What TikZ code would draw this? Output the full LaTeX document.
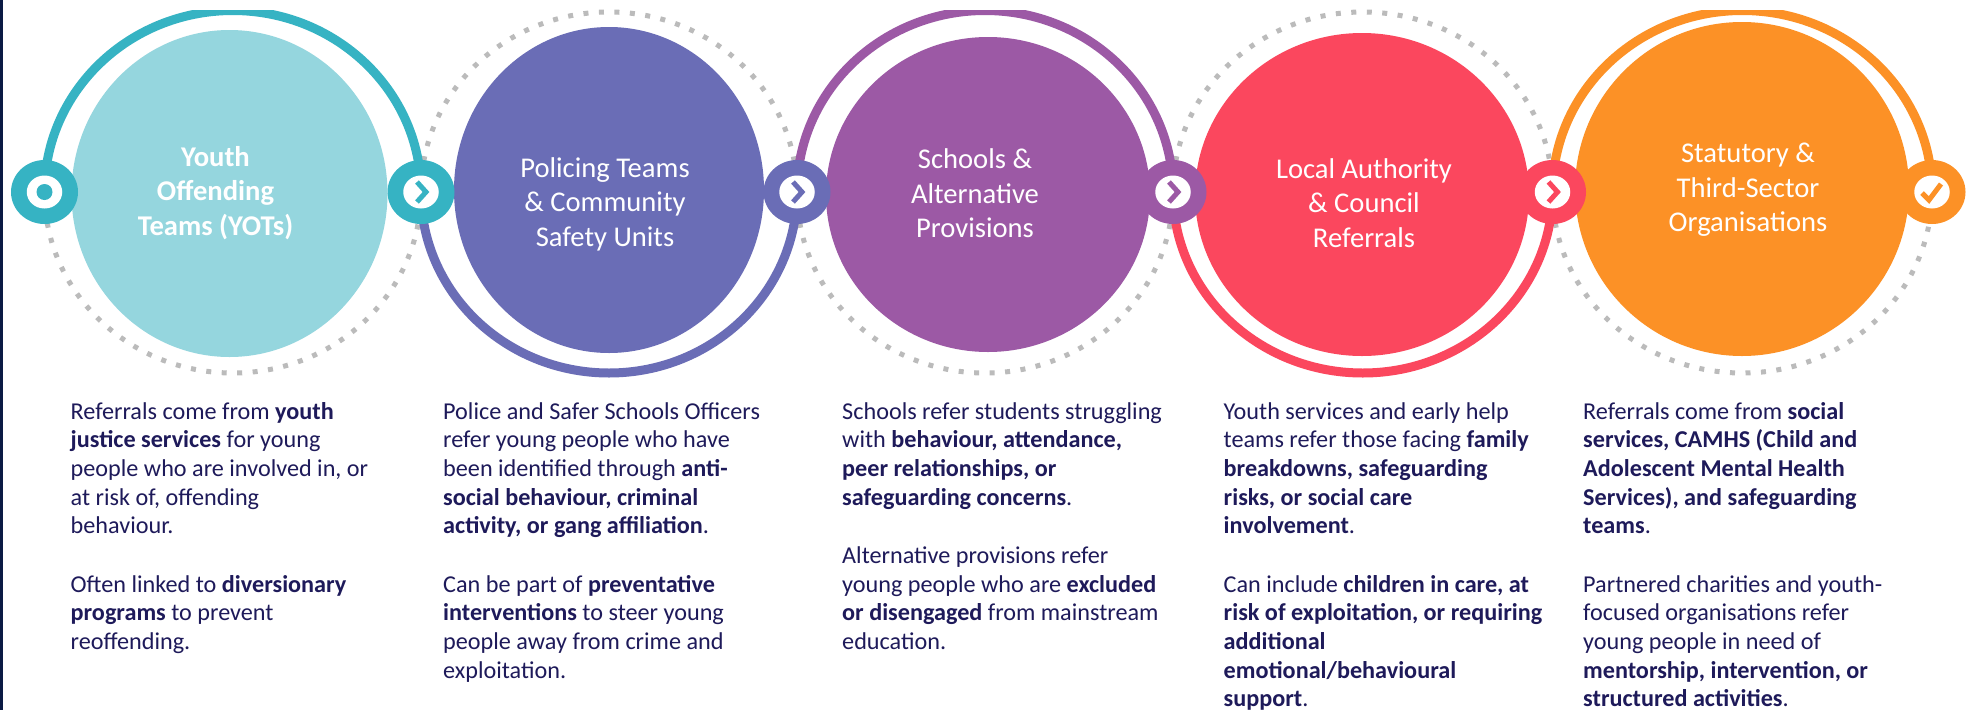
\documentclass[tikz,border=0pt]{standalone}
\usepackage{fontspec}
\setmainfont{Carlito}
\usetikzlibrary{shapes.geometric}
\definecolor{cTeal}{HTML}{36B3C3}
\definecolor{cTealL}{HTML}{95D6DE}
\definecolor{cBlue}{HTML}{6A6DB6}
\definecolor{cPurp}{HTML}{9C59A5}
\definecolor{cRed}{HTML}{FB475E}
\definecolor{cOrange}{HTML}{FC9126}
\definecolor{cDots}{HTML}{BBBBBB}
\definecolor{cInk}{HTML}{1E1A5A}
\definecolor{cBar}{HTML}{0B1A44}
\tikzset{
  x=1pt,y=-1pt,
  bigdisc/.style={ellipse,inner sep=0pt,outer sep=0pt},
  hub/.style={ellipse,inner sep=0pt,outer sep=0pt,minimum width=67pt,minimum height=64pt},
  hubcore/.style={ellipse,fill=white,inner sep=0pt,outer sep=0pt,minimum width=35.5pt,minimum height=33pt},
  titletext/.style={text=white,align=center,inner sep=0pt,font=\fontsize{28.6}{34.5}\selectfont},
  bodytext/.style={text=cInk,align=left,anchor=north west,inner sep=0pt,font=\fontsize{24.2}{28.7}\selectfont},
  solidarc/.style={line width=9pt},
  dotarc/.style={line width=5pt,cDots,dash pattern=on 5pt off 10.5pt},
  chev/.style={line width=5pt,miter limit=10}
}
\begin{document}
\begin{tikzpicture}
\useasboundingbox (0,0) rectangle (1966,710);
\fill[white] (0,0) rectangle (1966,710);
\fill[cBar] (0,0) rectangle (3,710);
% hub anchors
\coordinate (h1) at (44.5,192);
\coordinate (h2) at (421,192);
\coordinate (h3) at (797,192);
\coordinate (h4) at (1173,192);
\coordinate (h5) at (1552.5,192);
\coordinate (h6) at (1932,192);
% dotted halves
\draw[dotarc] (h1) arc[start angle=180,end angle=360,x radius=188.25pt,y radius=181pt];
\draw[dotarc] (h2) arc[start angle=180,end angle=0,x radius=188pt,y radius=180pt];
\draw[dotarc] (h3) arc[start angle=180,end angle=360,x radius=188pt,y radius=181pt];
\draw[dotarc] (h4) arc[start angle=180,end angle=0,x radius=189.75pt,y radius=180pt];
\draw[dotarc] (h5) arc[start angle=180,end angle=360,x radius=189.75pt,y radius=181pt];
% solid halves, the upper ones cut off at the top
\begin{scope}
\clip (0,10) rectangle (1966,710);
\draw[solidarc,cTeal] (h1) arc[start angle=180,end angle=0,x radius=188.25pt,y radius=181.5pt];
\draw[solidarc,cBlue] (h2) arc[start angle=180,end angle=360,x radius=188pt,y radius=181pt];
\draw[solidarc,cPurp] (h3) arc[start angle=180,end angle=0,x radius=188pt,y radius=181.5pt];
\draw[solidarc,cRed] (h4) arc[start angle=180,end angle=360,x radius=189.75pt,y radius=181pt];
\draw[solidarc,cOrange] (h5) arc[start angle=180,end angle=0,x radius=189.75pt,y radius=181.5pt];
\end{scope}
% large discs
\node[bigdisc,fill=cTealL,minimum width=316pt,minimum height=327pt] (d1) at (229.5,193.5) {};
\node[bigdisc,fill=cBlue,minimum width=310pt,minimum height=326pt] (d2) at (609,190) {};
\node[bigdisc,fill=cPurp,minimum width=324pt,minimum height=315pt] (d3) at (988,194.5) {};
\node[bigdisc,fill=cRed,minimum width=334pt,minimum height=323pt] (d4) at (1362,194.5) {};
\node[bigdisc,fill=cOrange,minimum width=334pt,minimum height=334pt] (d5) at (1742,189) {};
% hubs
\node[hub,fill=cTeal] (n1) at (h1) {};
\node[hub,fill=cTeal] (n2) at (h2) {};
\node[hub,fill=cBlue] (n3) at (h3) {};
\node[hub,fill=cPurp] (n4) at (h4) {};
\node[hub,fill=cRed] (n5) at (h5) {};
\node[hub,fill=cOrange] (n6) at (h6) {};
\node[hubcore] (w1) at (h1) {};
\node[hubcore] (w2) at (h2) {};
\node[hubcore] (w3) at (h3) {};
\node[hubcore] (w4) at (h4) {};
\node[hubcore] (w5) at (h5) {};
\node[hubcore] (w6) at (h6) {};
\fill[cTeal] (w1.center) ellipse[x radius=8pt,y radius=8pt];
\draw[chev,cTeal] ([shift={(-4,-10)}]w2.center) -- ++(9,10) -- ++(-9,10);
\draw[chev,cBlue] ([shift={(-4,-10)}]w3.center) -- ++(9,10) -- ++(-9,10);
\draw[chev,cPurp] ([shift={(-4,-10)}]w4.center) -- ++(9,10) -- ++(-9,10);
\draw[chev,cRed] ([shift={(-4,-10)}]w5.center) -- ++(9,10) -- ++(-9,10);
\draw[chev,cOrange] ([shift={(-10,1)}]w6.center) -- ++(7,7) -- ++(12,-16);
% titles
\node[titletext,font=\fontsize{28.6}{34.5}\selectfont\bfseries] (t1) at (215.5,193) {Youth\\Offending\\Teams (YOTs)};
\node[titletext] (t2) at (605,204) {Policing Teams\\\& Community\\Safety Units};
\node[titletext] (t3) at (975,193.5) {Schools \&\\Alternative\\Provisions};
\node[titletext] (t4) at (1364,203) {Local Authority\\\& Council\\Referrals};
\node[titletext] (t5) at (1748,190) {Statutory \&\\Third-Sector\\Organisations};
% body text
\node[bodytext] (b1) at (70.5,402) {Referrals come from \textbf{youth}\\\textbf{justice services} for young\\people who are involved in, or\\at risk of, offending\\behaviour.\\[29.5pt]Often linked to \textbf{diversionary}\\\textbf{programs} to prevent\\reoffending.};
\node[bodytext] (b2) at (443,402) {Police and Safer Schools Officers\\refer young people who have\\been identified through \textbf{anti-}\\\textbf{social behaviour, criminal}\\\textbf{activity, or gang affiliation}.\\[29.5pt]Can be part of \textbf{preventative}\\\textbf{interventions} to steer young\\people away from crime and\\exploitation.};
\node[bodytext] (b3) at (842,402) {Schools refer students struggling\\with \textbf{behaviour, attendance,}\\\textbf{peer relationships, or}\\\textbf{safeguarding concerns}.\\[29.5pt]Alternative provisions refer\\young people who are \textbf{excluded}\\\textbf{or disengaged} from mainstream\\education.};
\node[bodytext] (b4) at (1223.5,402) {Youth services and early help\\teams refer those facing \textbf{family}\\\textbf{breakdowns, safeguarding}\\\textbf{risks, or social care}\\\textbf{involvement}.\\[29.5pt]Can include \textbf{children in care, at}\\\textbf{risk of exploitation, or requiring}\\\textbf{additional}\\\textbf{emotional/behavioural}\\\textbf{support}.};
\node[bodytext] (b5) at (1583,402) {Referrals come from \textbf{social}\\\textbf{services, CAMHS (Child and}\\\textbf{Adolescent Mental Health}\\\textbf{Services), and safeguarding}\\\textbf{teams}.\\[29.5pt]Partnered charities and youth-\\focused organisations refer\\young people in need of\\\textbf{mentorship, intervention, or}\\\textbf{structured activities}.};
\end{tikzpicture}
\end{document}
